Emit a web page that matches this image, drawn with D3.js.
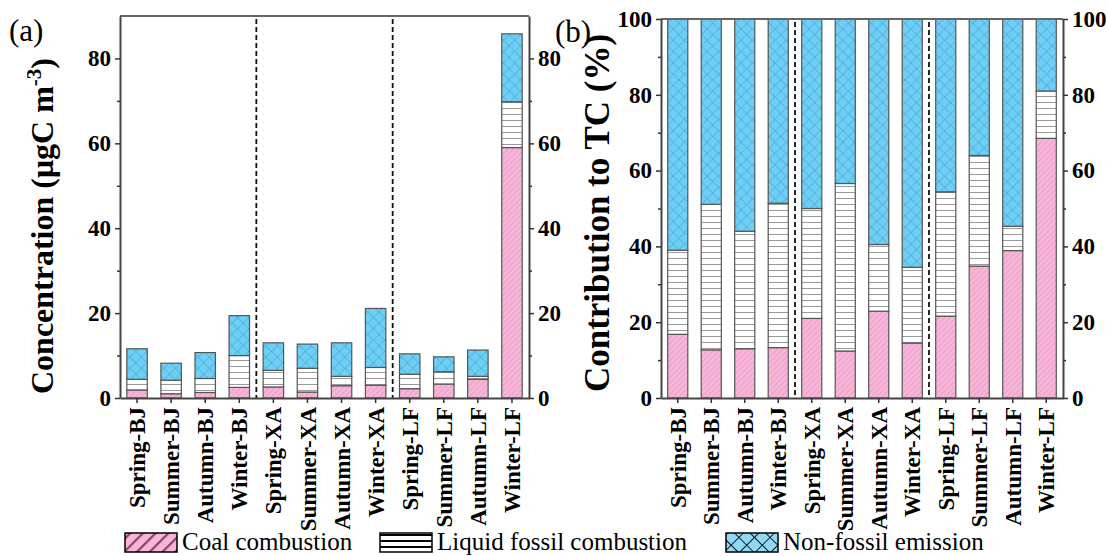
<!DOCTYPE html>
<html lang="en">
<head>
<meta charset="UTF-8">
<title>Carbon source apportionment</title>
<script src="https://d3js.org/d3.v7.min.js"></script>
<style>
  body { margin: 0; background: #fff; }
  svg { display: block; }
  svg text { font-family: "Liberation Serif", Tinos, "Times New Roman", Times, "DejaVu Serif", serif; fill: #000; }
  .axis path { stroke: #444; stroke-width: 2; }
  .axis line { stroke: #333; stroke-width: 1.5; }
  .axis text { font-size: 23px; font-weight: bold; }
  .bar { stroke: #555; stroke-width: 1.2; }
  .ytitle { font-weight: bold; text-anchor: middle; }
  .plabel { font-size: 31px; }
  .legend text { font-size: 25px; }
</style>
</head>
<body>
<svg width="1107" height="556"></svg>
<script>
const categories = ["Spring-BJ", "Summer-BJ", "Autumn-BJ", "Winter-BJ",
                    "Spring-XA", "Summer-XA", "Autumn-XA", "Winter-XA",
                    "Spring-LF", "Summer-LF", "Autumn-LF", "Winter-LF"];
// (a) concentration, ugC m-3
const coalConc      = [1.9, 1.0, 1.3, 2.5, 2.6, 1.4, 2.9, 3.0, 2.2, 3.3, 4.4, 59.0];
const liquidConc    = [2.5, 3.2, 3.3, 7.5, 3.9, 5.6, 2.2, 4.2, 3.4, 2.9, 0.7, 10.8];
const nonFossilConc = [7.2, 4.0, 6.1, 9.4, 6.5, 5.7, 7.9, 13.9, 4.8, 3.5, 6.2, 16.0];
// (b) contribution to TC, %
const coalPct      = [16.8, 12.7, 13.0, 13.3, 21.0, 12.4, 22.9, 14.5, 21.6, 34.8, 38.9, 68.5];
const liquidPct    = [22.2, 38.4, 31.0, 38.1, 29.0, 44.2, 17.6, 20.0, 32.8, 29.2, 6.4, 12.5];
const nonFossilPct = [61.0, 48.9, 56.0, 48.6, 50.0, 43.4, 59.5, 65.5, 45.6, 36.0, 54.7, 19.0];
const concTicks = [0, 20, 40, 60, 80];
const concMinor = [10, 30, 50, 70];
const pctTicks = [0, 20, 40, 60, 80, 100];
const pctMinor = [10, 30, 50, 70, 90];
const seriesNames = ["Coal combustion", "Liquid fossil combustion", "Non-fossil emission"];
const keys = ["coal", "liquid", "non"];

const svg = d3.select("svg");
const defs = svg.append("defs");

// hatch patterns for bars
function pattern(id, size, bg, rotate, lines, stroke, sw) {
    const p = defs.append("pattern")
        .attr("id", id)
        .attr("patternUnits", "userSpaceOnUse")
        .attr("width", size).attr("height", size);
    if (rotate) p.attr("patternTransform", `rotate(${rotate})`);
    p.append("rect").attr("width", size).attr("height", size).attr("fill", bg);
    lines.forEach(l => p.append("line")
        .attr("x1", l[0]).attr("y1", l[1]).attr("x2", l[2]).attr("y2", l[3])
        .attr("stroke", stroke).attr("stroke-width", sw));
}
pattern("coal", 4, "#f8b4d9", 45, [[0, 0, 0, 4]], "#c98aa9", 0.8);
pattern("liquid", 6, "#fff", 0, [[0, 0.5, 6, 0.5]], "#9a9a9a", 1);
pattern("non", 8, "#6dcff6", 45, [[0, 0, 0, 8], [0, 0, 8, 0]], "#3f86a6", 0.7);
pattern("coalL", 9, "#f8b4d9", 45, [[1, 0, 1, 9]], "#8a4566", 2.4);
pattern("liquidL", 6, "#fff", 0, [[0, 1, 6, 1]], "#000", 2);
pattern("nonL", 11, "#8fd9f7", 45, [[0, 0, 0, 11], [0, 0, 11, 0]], "#000", 1.8);
const fills = { coal: "url(#coal)", liquid: "url(#liquid)", non: "url(#non)" };

function drawPanel(o) {
    const rows = categories.map((c, i) => ({ cat: c, coal: o.coal[i], liquid: o.liquid[i], non: o.non[i] }));
    const stacked = d3.stack().keys(keys)(rows);
    const x = d3.scaleBand().domain(categories).range([o.left, o.right])
        .paddingInner(0.4).paddingOuter(0.2);
    const y = d3.scaleLinear().domain([0, o.max]).range([o.bottom, o.top]);
    const g = svg.append("g");

    g.selectAll("g.series").data(stacked).enter().append("g")
        .attr("fill", d => fills[d.key])
        .selectAll("rect").data(d => d).enter().append("rect")
        .attr("class", "bar")
        .attr("x", d => x(d.data.cat))
        .attr("width", x.bandwidth())
        .attr("y", d => y(d[1]))
        .attr("height", d => y(d[0]) - y(d[1]));

    // dashed separators between sites
    [3, 7].forEach(i => {
        const xs = (x(categories[i]) + x.bandwidth() + x(categories[i + 1])) / 2;
        g.append("line").attr("x1", xs).attr("x2", xs)
            .attr("y1", o.top + 3).attr("y2", o.bottom)
            .attr("stroke", "#111").attr("stroke-width", 1.8)
            .attr("stroke-dasharray", "5,3");
    });

    g.append("line").attr("x1", o.left).attr("x2", o.right)
        .attr("y1", o.top).attr("y2", o.top)
        .attr("stroke", "#666").attr("stroke-width", 2);

    g.append("g").attr("class", "axis").attr("transform", `translate(${o.left},0)`)
        .call(d3.axisLeft(y).tickValues(o.ticks).tickSize(5).tickSizeOuter(0).tickPadding(4));
    g.append("g").attr("class", "axis").attr("transform", `translate(${o.left},0)`)
        .call(d3.axisLeft(y).tickValues(o.minor).tickSize(3).tickFormat(""))
        .select(".domain").remove();
    g.append("g").attr("class", "axis").attr("transform", `translate(${o.right},0)`)
        .call(d3.axisRight(y).tickValues(o.ticks).tickSize(5).tickSizeOuter(0).tickPadding(4));
    g.append("g").attr("class", "axis").attr("transform", `translate(${o.right},0)`)
        .call(d3.axisRight(y).tickValues(o.minor).tickSize(3).tickFormat(""))
        .select(".domain").remove();

    g.append("g").attr("class", "axis").attr("transform", `translate(0,${o.bottom})`)
        .call(d3.axisBottom(x).tickSize(5).tickSizeOuter(0))
        .selectAll("text")
        .attr("transform", "rotate(-90)")
        .attr("x", -9).attr("y", 0).attr("dy", "0.35em")
        .style("text-anchor", "end");
    return g;
}

drawPanel({ left: 120, right: 529, top: 16, bottom: 398, max: 90,
    ticks: concTicks, minor: concMinor, coal: coalConc, liquid: liquidConc, non: nonFossilConc });
drawPanel({ left: 661, right: 1063, top: 19, bottom: 398, max: 100,
    ticks: pctTicks, minor: pctMinor, coal: coalPct, liquid: liquidPct, non: nonFossilPct });

// titles
const t1 = svg.append("text").attr("class", "ytitle")
    .attr("font-size", 32)
    .attr("transform", "translate(53,226) rotate(-90)");
t1.append("tspan").text("Concentration (μgC m");
t1.append("tspan").attr("dy", -12).attr("font-size", 21).text("-3");
t1.append("tspan").attr("dy", 12).text(")");
svg.append("text").attr("class", "ytitle")
    .attr("font-size", 35)
    .attr("transform", "translate(609,213) rotate(-90)")
    .text("Contribution to TC (%)");
svg.append("text").attr("class", "plabel").attr("x", 9).attr("y", 41).text("(a)");
svg.append("text").attr("class", "plabel").attr("x", 555).attr("y", 42).text("(b)");

// legend
const legendX = [125, 380, 726];
const legendFill = ["url(#coalL)", "url(#liquidL)", "url(#nonL)"];
const lg = svg.append("g").attr("class", "legend");
seriesNames.forEach((name, i) => {
    lg.append("rect").attr("x", legendX[i]).attr("y", 533)
        .attr("width", 52).attr("height", 19)
        .attr("fill", legendFill[i]).attr("stroke", "#000").attr("stroke-width", 1.5);
    lg.append("text").attr("x", legendX[i] + 57).attr("y", 550).text(name);
});
</script>
</body>
</html>
